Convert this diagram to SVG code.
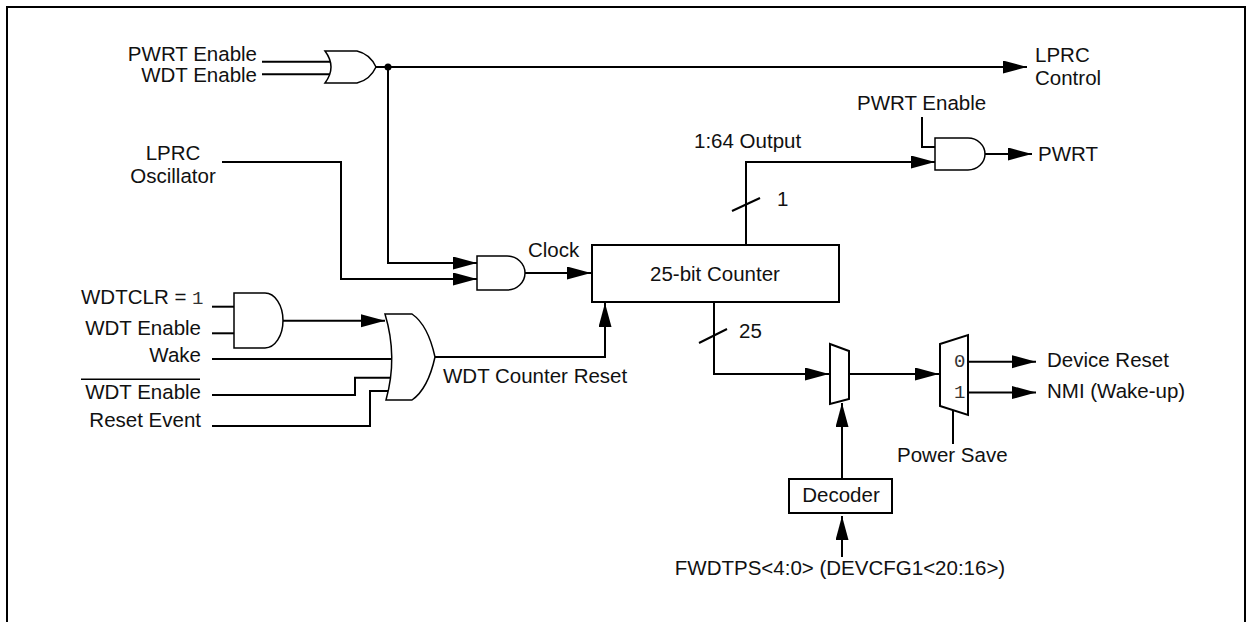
<svg xmlns="http://www.w3.org/2000/svg" width="1252" height="622" viewBox="0 0 1252 622">
<defs>
<marker id="arr" markerUnits="userSpaceOnUse" markerWidth="24" markerHeight="14" refX="24" refY="6.5" orient="auto">
<path d="M0,0 L24,6.5 L0,13 Z" fill="#000"/>
</marker>
<style>
.w{fill:none;stroke:#000;stroke-width:2}
.a{fill:none;stroke:#000;stroke-width:2;marker-end:url(#arr)}
.g{fill:#fff;stroke:#000;stroke-width:1.5}
.b{fill:#fff;stroke:#000;stroke-width:2}
text{font-family:"Liberation Sans",Arial,sans-serif;font-size:20.5px;fill:#111}
.m{font-family:"Liberation Mono","Courier New",monospace;font-size:19px;fill:#333}
.e{text-anchor:end}
.c{text-anchor:middle}
</style>
</defs>
<rect width="1252" height="622" fill="#fff"/>
<path d="M7,622 V7 H1245 V622" fill="none" stroke="#000" stroke-width="2"/>

<g id="connectors">
<path class="w" d="M262,61.7 H330"/>
<path class="w" d="M262,74.3 H330"/>
<path class="a" d="M376,67 H1027"/>
<circle cx="388" cy="67" r="3.5" fill="#000"/>
<path class="a" d="M388,67 V263 H477"/>
<path class="a" d="M222,162 H341 V279 H477"/>
<path class="a" d="M525,273 H591"/>
<path class="w" d="M212,306.7 H234"/>
<path class="w" d="M212,333.3 H234"/>
<path class="a" d="M283,320.7 H385"/>
<path class="w" d="M212,359 H392"/>
<path class="w" d="M212,395 H355 V377.7 H391"/>
<path class="w" d="M212,426 H370 V391 H389"/>
<path class="a" d="M435,357 H605 V303"/>
<path class="a" d="M746,245 V162 H935"/>
<path class="w" d="M732,211 L760,198"/>
<path class="w" d="M922,117 V147 H935"/>
<path class="a" d="M985,154 H1032"/>
<path class="a" d="M714,302 V374 H829"/>
<path class="w" d="M699,343 L727,329"/>
<path class="a" d="M849,374 H939"/>
<path class="a" d="M968,361.7 H1036"/>
<path class="a" d="M968,392.5 H1036"/>
<path class="w" d="M953,410 V444"/>
<path class="a" d="M842,479 V403"/>
<path class="a" d="M842,557 V516"/>
</g>

<g id="or-top">
<path class="g" d="M325,51 H357 Q370,54 376,67 Q370,80 357,83 H325 Q337,67 325,51 Z"/>
<text class="e" x="257" y="61">PWRT Enable</text>
<text class="e" x="257" y="82">WDT Enable</text>
</g>

<g id="lprc-control">
<text x="1035" y="62">LPRC</text>
<text x="1035" y="85">Control</text>
</g>

<g id="lprc-osc">
<text class="c" x="173" y="160">LPRC</text>
<text class="c" x="173" y="183">Oscillator</text>
</g>

<g id="and-clock">
<path class="g" d="M477,256 H507 A18,17 0 0 1 507,290 H477 Z"/>
<text x="528" y="257">Clock</text>
</g>

<g id="counter">
<rect class="b" x="592" y="245" width="247" height="57"/>
<text class="c" x="715" y="281">25-bit Counter</text>
</g>

<g id="labels-bus">
<text x="694" y="148">1:64 Output</text>
<text x="777" y="206">1</text>
<text x="739" y="338">25</text>
</g>

<g id="and-pwrt">
<path class="g" d="M935,138 H968 A17,16 0 0 1 968,170 H935 Z"/>
<text x="857" y="110">PWRT Enable</text>
<text x="1038" y="161">PWRT</text>
</g>

<g id="and-wdtclr">
<path class="g" d="M234,293 H265 A18,27.5 0 0 1 265,348 H234 Z"/>
<text x="81" y="304">WDTCLR = <tspan class="m">1</tspan></text>
<text class="e" x="201" y="335">WDT Enable</text>
<text class="e" x="201" y="362">Wake</text>
<text class="e" x="201" y="399">WDT Enable</text>
<line x1="81" y1="379.3" x2="200" y2="379.3" stroke="#000" stroke-width="1.5"/>
<text class="e" x="201" y="427">Reset Event</text>
</g>

<g id="or-reset">
<path class="g" d="M385,314 H412 Q428,325 435,357 Q428,389 412,400 H386 Q398,357 385,314 Z"/>
<text x="443" y="383">WDT Counter Reset</text>
</g>

<g id="mux-select">
<path class="b" d="M830,344 L849,351 L849,399 L830,404 Z"/>
</g>

<g id="mux-out">
<path class="b" d="M940,344 L968,335 L968,415 L940,406 Z"/>
<text class="m" x="954" y="367">0</text>
<text class="m" x="954" y="398">1</text>
<text x="1047" y="367">Device Reset</text>
<text x="1047" y="398">NMI (Wake-up)</text>
<text x="897" y="462">Power Save</text>
</g>

<g id="decoder">
<rect class="b" x="789" y="479" width="103" height="34"/>
<text class="c" x="841" y="502">Decoder</text>
<text class="c" x="840" y="575">FWDTPS&lt;4:0&gt; (DEVCFG1&lt;20:16&gt;)</text>
</g>
</svg>
